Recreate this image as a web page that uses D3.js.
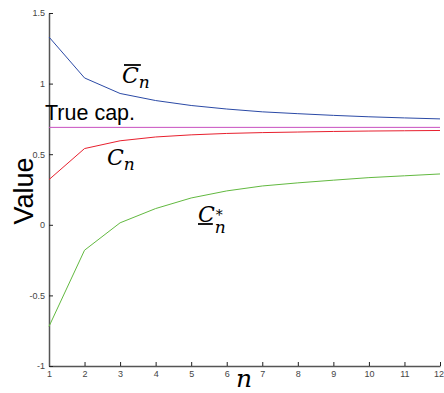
<!DOCTYPE html>
<html>
<head>
<meta charset="utf-8">
<script src="https://cdn.jsdelivr.net/npm/d3@7"></script>
<style>
  html, body { margin: 0; padding: 0; background: #fff; }
  svg { display: block; }
  .math { font-family: "DejaVu Serif", "Liberation Serif", "Times New Roman", serif; font-style: italic; }
</style>
</head>
<body>
<svg id="chart" width="444" height="393"></svg>
<script>
// Capacity bounds versus block length n
const nValues   = [1, 2, 3, 4, 5, 6, 7, 8, 9, 10, 11, 12];
const upperBound = [1.33, 1.04, 0.93, 0.88, 0.845, 0.82, 0.80, 0.787, 0.775, 0.765, 0.757, 0.75];
const cnValues   = [0.32, 0.54, 0.595, 0.622, 0.637, 0.647, 0.653, 0.657, 0.661, 0.664, 0.666, 0.668];
const lowerBound = [-0.72, -0.18, 0.014, 0.115, 0.19, 0.24, 0.275, 0.297, 0.316, 0.334, 0.347, 0.36];
const trueCapacity = 0.69;
const xTicks = [1, 2, 3, 4, 5, 6, 7, 8, 9, 10, 11, 12];
const yTicks = [-1, -0.5, 0, 0.5, 1, 1.5];
const yTickLabels = ["-1", "-0.5", "0", "0.5", "1", "1.5"];

const svg = d3.select("#chart");
const x = d3.scaleLinear().domain([1, 12]).range([49, 440]);
const y = d3.scaleLinear().domain([-1, 1.5]).range([366, 13]);

const axisColor = "#555";
const sansFont = "'Liberation Sans', Arial, sans-serif";

// Axes with inward ticks
const xAxis = svg.append("g")
  .attr("transform", `translate(0,${y(-1)})`)
  .call(d3.axisBottom(x).tickValues(xTicks).tickFormat(d3.format("d"))
    .tickSizeInner(-4).tickSizeOuter(0).tickPadding(3));
const yAxis = svg.append("g")
  .attr("transform", `translate(${x(1)},0)`)
  .call(d3.axisLeft(y).tickValues(yTicks).tickFormat((d, i) => yTickLabels[i])
    .tickSizeInner(-4).tickSizeOuter(0).tickPadding(4));

[xAxis, yAxis].forEach(g => {
  g.select(".domain").attr("stroke", axisColor).attr("stroke-width", 1.5);
  g.selectAll(".tick line").attr("stroke", "#222").attr("stroke-width", 1);
  g.selectAll(".tick text")
    .attr("fill", "#444")
    .attr("font-family", sansFont)
    .attr("font-size", 9);
});
xAxis.selectAll(".tick text").attr("dy", "0.9em");
xAxis.selectAll(".tick text").filter(d => d === 12).attr("dx", -1.5);

// Series lines
const line = d3.line().x((d, i) => x(nValues[i])).y(d => y(d));
const series = [
  { values: upperBound, color: "#2b4aa6" },
  { values: cnValues,   color: "#e8202e" },
  { values: lowerBound, color: "#62b940" }
];
series.forEach(s => {
  svg.append("path")
    .datum(s.values)
    .attr("fill", "none")
    .attr("stroke", s.color)
    .attr("stroke-width", 1)
    .attr("d", line);
});

// True capacity reference line
svg.append("line")
  .attr("x1", x(1)).attr("x2", x(12))
  .attr("y1", y(trueCapacity)).attr("y2", y(trueCapacity))
  .attr("stroke", "#c84fc0").attr("stroke-width", 1);

svg.append("text")
  .attr("x", 45).attr("y", 120)
  .attr("font-family", sansFont)
  .attr("font-size", 21.5)
  .attr("fill", "#000")
  .text("True cap.");

// Axis titles
svg.append("text")
  .attr("transform", "translate(33,191) rotate(-90)")
  .attr("text-anchor", "middle")
  .attr("font-family", sansFont)
  .attr("font-size", 27)
  .text("Value");

svg.append("text")
  .attr("class", "math")
  .attr("x", 244).attr("y", 387)
  .attr("text-anchor", "middle")
  .style("font-size", "25px")
  .text("n");

// Math-style labels: C with subscript n, optional over/underbar and star
function mathLabel(px, py, opts) {
  const g = svg.append("g");
  const c = g.append("text")
    .attr("class", "math")
    .attr("x", px).attr("y", py)
    .style("font-size", "22px")
    .text("C");
  const w = c.node().getComputedTextLength();
  g.append("text")
    .attr("class", "math")
    .attr("x", px + w).attr("y", py + (opts.star ? 11 : 5))
    .style("font-size", "17px")
    .text("n");
  if (opts.star) {
    g.append("text")
      .attr("class", "math")
      .attr("x", px + w + 1).attr("y", py - 2)
      .style("font-style", "normal")
      .style("font-size", "14px")
      .text("*");
  }
  if (opts.over) {
    g.append("line")
      .attr("x1", px + 2).attr("x2", px + w + 2)
      .attr("y1", py - 18).attr("y2", py - 18)
      .attr("stroke", "#000").attr("stroke-width", 1.8);
  }
  if (opts.under) {
    g.append("line")
      .attr("x1", px).attr("x2", px + w - 2)
      .attr("y1", py + 2).attr("y2", py + 2)
      .attr("stroke", "#000").attr("stroke-width", 1.8);
  }
}

mathLabel(122, 83, { over: true });
mathLabel(107, 165, {});
mathLabel(198, 222, { under: true, star: true });
</script>
</body>
</html>
